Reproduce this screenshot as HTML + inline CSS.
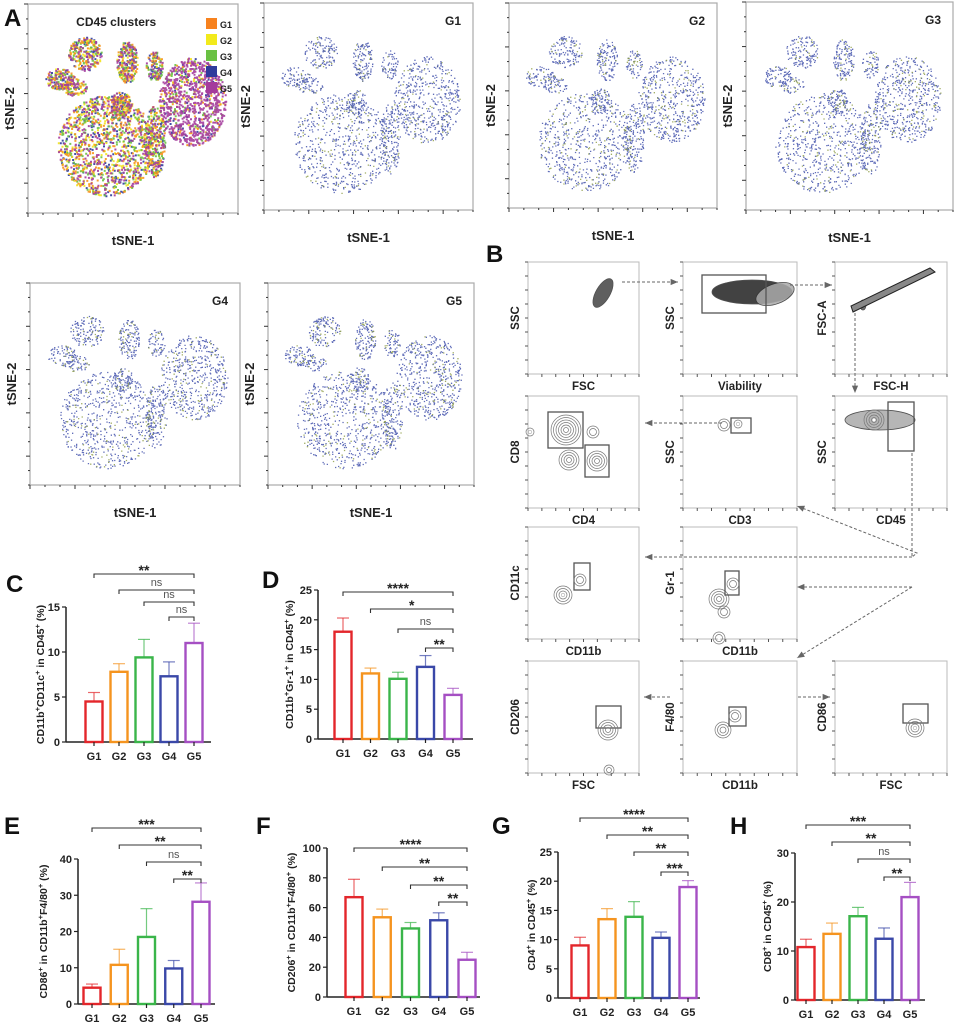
<!DOCTYPE html>
<html><head><meta charset="utf-8"><style>
html,body{margin:0;padding:0;background:#fff}
svg{display:block;font-family:"Liberation Sans",Arial,sans-serif}
</style></head><body>
<svg id="fig" width="957" height="1024" viewBox="0 0 957 1024" xmlns="http://www.w3.org/2000/svg">
<g id="tsne"></g>
<g id="flow"></g>
<g id="bars"></g>
<g font-weight="bold" font-size="24" fill="#111">
<text x="4" y="26">A</text>
<text x="486" y="262">B</text>
<text x="6" y="592">C</text>
<text x="262" y="588">D</text>
<text x="4" y="834">E</text>
<text x="256" y="834">F</text>
<text x="492" y="834">G</text>
<text x="730" y="834">H</text>
</g>
</svg>
<script>
// ---------- bar chart data ----------
const groups = ["G1","G2","G3","G4","G5"];
const colors = ["#e3262b","#f5941f","#3ab54a","#3a48a8","#a54fc3"];
const cVals = [4.5,7.8,9.4,7.3,11.0];
const cErr  = [1.0,0.9,2.0,1.6,2.2];
const cTicks = [0,5,10,15];
const cSig = ["**","ns","ns","ns"];
const dVals = [18,11,10.1,12.1,7.4];
const dErr  = [2.3,0.9,1.1,1.9,1.1];
const dTicks = [0,5,10,15,20,25];
const dSig = ["****","*","ns","**"];
const eVals = [4.5,10.8,18.5,9.8,28.2];
const eErr  = [1.0,4.3,7.8,2.2,5.2];
const eTicks = [0,10,20,30,40];
const eSig = ["***","**","ns","**"];
const fVals = [67,53.5,46,51.5,25];
const fErr  = [12,5.5,4,5,5];
const fTicks = [0,20,40,60,80,100];
const fSig = ["****","**","**","**"];
const gVals = [9,13.5,13.9,10.3,19];
const gErr  = [1.4,1.8,2.6,1.0,1.1];
const gTicks = [0,5,10,15,20,25];
const gSig = ["****","**","**","***"];
const hVals = [10.8,13.5,17.1,12.5,21];
const hErr  = [1.6,2.2,1.8,2.2,3.0];
const hTicks = [0,10,20,30];
const hSig = ["***","**","ns","**"];

const NS="http://www.w3.org/2000/svg";
function mk(tag,attrs,parent,text){const e=document.createElementNS(NS,tag);for(const k in attrs)e.setAttribute(k,attrs[k]);if(text!==undefined)e.textContent=text;parent.appendChild(e);return e;}

function barChart(p){
  const root=document.getElementById('bars');
  const g=mk('g',{},root);
  
  
  const ymax=p.ticks[p.ticks.length-1];
  const y=v=>p.y0-(v/ymax)*(p.y0-p.yTop);
  const x=i=>p.x1+i*(p.x5-p.x1)/4;
  const bw=17;
  const ya=mk('line',{x1:p.ax,y1:y(ymax),x2:p.ax,y2:p.y0,stroke:'#222','stroke-width':1.5},g);
  
  const xa=mk('line',{x1:p.ax,y1:p.y0,x2:p.xEnd,y2:p.y0,stroke:'#222','stroke-width':1.5},g);
  
  p.ticks.forEach(t=>{
    mk('line',{x1:p.ax-4,y1:y(t),x2:p.ax,y2:y(t),stroke:'#222','stroke-width':1.2},g);
    const tl=mk('text',{x:p.ax-6,y:y(t)+4,'font-size':11,'font-weight':'bold','text-anchor':'end',fill:'#222'},g,String(t));
    
  });
  groups.forEach((gn,i)=>{
    const v=p.vals[i],e=p.err[i],cx=x(i);
    mk('line',{x1:cx,y1:y(v),x2:cx,y2:y(v+e),stroke:colors[i],'stroke-width':1.2,opacity:0.7},g);
    mk('line',{x1:cx-6,y1:y(v+e),x2:cx+6,y2:y(v+e),stroke:colors[i],'stroke-width':1.2,opacity:0.7},g);
    const r=mk('rect',{x:cx-bw/2,y:y(v),width:bw,height:p.y0-y(v),fill:'#fff',stroke:colors[i],'stroke-width':2.4},g);
    
    mk('line',{x1:cx,y1:p.y0,x2:cx,y2:p.y0+4,stroke:'#222','stroke-width':1.2},g);
    const xl=mk('text',{x:cx,y:p.y0+18,'font-size':11,'font-weight':'bold','text-anchor':'middle',fill:'#222'},g,gn);
    
  });
  p.sig.forEach((s,k)=>{
    const by=p.brY[k];
    const b=mk('path',{d:`M${x(k)} ${by+4}V${by}H${x(4)}V${by+4}`,fill:'none',stroke:'#333','stroke-width':1.1},g);
    
    const isNs=s==='ns';
    const tl=mk('text',{x:(x(k)+x(4))/2,y:isNs?by-4:by+1,'font-size':isNs?11:14,'font-weight':isNs?'normal':'bold','text-anchor':'middle',fill:isNs?'#555':'#222'},g,s);
    
  });
  const t=mk('text',{transform:`translate(${p.tx},${(p.y0+y(ymax))/2}) rotate(-90)`,'font-size':10.5,'font-weight':'bold','text-anchor':'middle',fill:'#222'},g);
  
  p.title.forEach(seg=>{mk('tspan',seg[1]?{'baseline-shift':'super','font-size':7.5}:{},t,seg[0]);});
}
barChart({name:'chart-c',ax:66,y0:742,yTop:607,x1:94,x5:194,xEnd:211,vals:cVals,err:cErr,ticks:cTicks,sig:cSig,brY:[574,590,602,617],tx:44,
 title:[["CD11b"],["+",1],["CD11c"],["+",1],[" in CD45"],["+",1],["  (%)"]]});
barChart({name:'chart-d',ax:318,y0:739,yTop:590,x1:343,x5:453,xEnd:473,vals:dVals,err:dErr,ticks:dTicks,sig:dSig,brY:[592,609,629,648],tx:293,
 title:[["CD11b"],["+",1],["Gr-1"],["+",1],[" in CD45"],["+",1],["  (%)"]]});
barChart({name:'chart-e',ax:78,y0:1004,yTop:859,x1:92,x5:201,xEnd:215,vals:eVals,err:eErr,ticks:eTicks,sig:eSig,brY:[828,845,862,879],tx:47,
 title:[["CD86"],["+",1],[" in CD11b"],["+",1],["F4/80"],["+",1],["  (%)"]]});
barChart({name:'chart-f',ax:327,y0:997,yTop:848,x1:354,x5:467,xEnd:480,vals:fVals,err:fErr,ticks:fTicks,sig:fSig,brY:[848,867,885,902],tx:295,
 title:[["CD206"],["+",1],[" in CD11b"],["+",1],["F4/80"],["+",1],["  (%)"]]});
barChart({name:'chart-g',ax:558,y0:998,yTop:852,x1:580,x5:688,xEnd:700,vals:gVals,err:gErr,ticks:gTicks,sig:gSig,brY:[818,835,852,872],tx:535,
 title:[["CD4"],["+",1],[" in CD45"],["+",1],["  (%)"]]});
barChart({name:'chart-h',ax:795,y0:1000,yTop:853,x1:806,x5:910,xEnd:925,vals:hVals,err:hErr,ticks:hTicks,sig:hSig,brY:[825,842,859,877],tx:771,
 title:[["CD8"],["+",1],[" in CD45"],["+",1],["  (%)"]]});

// ---------- tSNE panels (texture) ----------
let seed=12345;function rnd(){seed=(seed*1103515245+12345)%2147483648;return seed/2147483648;}
const blobs=[[0.37,0.68,0.23,0.24,1.0],[0.78,0.47,0.16,0.21,0.8],[0.6,0.66,0.05,0.17,0.25],[0.27,0.24,0.08,0.08,0.2],[0.47,0.28,0.05,0.1,0.2],[0.15,0.36,0.07,0.05,0.12],[0.44,0.48,0.05,0.06,0.12],[0.6,0.3,0.04,0.07,0.1],[0.22,0.4,0.06,0.04,0.08]];
function tsne(px,py,w,h,label,dense){
  const root=document.getElementById('tsne');
  const g=mk('g',{},root);
  
  
  mk('rect',{x:px,y:py,width:w,height:h,fill:'#fff',stroke:'#aaa','stroke-width':1.2},g);
  for(let i=0;i<=14;i++){mk('line',{x1:px,y1:py+h*i/14,x2:px-(i%3==0?4:2),y2:py+h*i/14,stroke:'#333'},g);mk('line',{x1:px+w*i/14,y1:py+h,x2:px+w*i/14,y2:py+h+(i%3==0?4:2),stroke:'#333'},g);}
  const pal=['#f7931e','#f2e21c','#6ac143','#2f3b9c','#a43c9c'];
  const cols={};
  blobs.forEach(b=>{const n=Math.round((dense?1300:650)*b[4]);for(let i=0;i<n;i++){const a=rnd()*6.283,r=Math.pow(rnd(),0.45);const x=px+w*(b[0]+b[2]*r*Math.cos(a)),y=py+h*(b[1]+b[3]*r*Math.sin(a));
    let c=dense?pal[Math.floor(rnd()*5)]:(rnd()<0.85?'#3a4aa8':'#8a9a40');if(dense&&b[0]>0.7&&rnd()<0.6)c='#a43c9c';
    (cols[c]=cols[c]||[]).push(`M${x.toFixed(1)} ${y.toFixed(1)}h${dense?2:1.3}`);}});
  for(const c in cols)mk('path',{d:cols[c].join(''),stroke:c,'stroke-width':dense?2:1.3,fill:'none',opacity:dense?0.9:0.8},g);
  const lt=mk('text',{x:dense?px+w*0.42:px+w-12,y:py+22,'font-size':12,'font-weight':'bold','text-anchor':dense?'middle':'end',fill:'#222'},g,label);
  
  const xt=mk('text',{x:px+w/2,y:py+h+32,'font-size':13,'font-weight':'bold','text-anchor':'middle',fill:'#222'},g,'tSNE-1');
  
  const yt=mk('text',{transform:`translate(${px-14},${py+h/2}) rotate(-90)`,'font-size':13,'font-weight':'bold','text-anchor':'middle',fill:'#222'},g,'tSNE-2');
  
  if(dense){['G1','G2','G3','G4','G5'].forEach((s,i)=>{const lg=mk('g',{},g);
    mk('rect',{x:px+w-32,y:py+14+i*16,width:11,height:11,fill:['#f7821e','#f2ea1c','#6ac143','#2f3b9c','#a43c9c'][i]},lg);
    mk('text',{x:px+w-18,y:py+24+i*16,'font-size':9,'font-weight':'bold',fill:'#222'},lg,s);});}
}
tsne(28,4,210,209,'CD45 clusters',true);
tsne(264,3,209,207,'G1',false);
tsne(509,3,208,205,'G2',false);
tsne(746,2,207,208,'G3',false);
tsne(30,283,210,202,'G4',false);
tsne(268,283,206,202,'G5',false);

// ---------- flow gating panels ----------
const colsX=[528,683,835], rowsY=[262,396,527,661], fw=[111,114,112], fh=112;
const flowPanels=[["SSC","FSC",0,0],["SSC","Viability",1,0],["FSC-A","FSC-H",2,0],["CD8","CD4",0,1],["SSC","CD3",1,1],["SSC","CD45",2,1],["CD11c","CD11b",0,2],["Gr-1","CD11b",1,2],["CD206","FSC",0,3],["F4/80","CD11b",1,3],["CD86","FSC",2,3]];
const fr=document.getElementById('flow');
flowPanels.forEach(fp=>{
  const px=colsX[fp[2]],py=rowsY[fp[3]],w=fw[fp[2]];
  const g=mk('g',{},fr);
  
  
  mk('rect',{x:px,y:py,width:w,height:fh,fill:'#fff',stroke:'#bbb','stroke-width':1},g);
  for(let i=0;i<=8;i++){mk('line',{x1:px,y1:py+fh*i/8,x2:px-3,y2:py+fh*i/8,stroke:'#555'},g);mk('line',{x1:px+w*i/8,y1:py+fh,x2:px+w*i/8,y2:py+fh+3,stroke:'#555'},g);}
  const xt=mk('text',{x:px+w/2,y:py+fh+16,'font-size':11.5,'font-weight':'bold','text-anchor':'middle',fill:'#222'},g,fp[1]);
  
  const yt=mk('text',{transform:`translate(${px-9},${py+fh/2}) rotate(-90)`,'font-size':11.5,'font-weight':'bold','text-anchor':'middle',fill:'#222'},g,fp[0]);
  
});
function blob(cx,cy,rx,ry,rot,fill){mk('ellipse',{cx,cy,rx,ry,transform:`rotate(${rot} ${cx} ${cy})`,fill:fill||'#777',stroke:'#333','stroke-width':0.8,opacity:0.85},fr);}
function gate(x,y,w,h){const r=mk('rect',{x,y,width:w,height:h,fill:'none',stroke:'#555','stroke-width':1.3},fr);}
function ring(cx,cy,r){for(let k=r;k>1;k-=2.5)mk('circle',{cx,cy,r:k,fill:'none',stroke:'#777','stroke-width':0.7},fr);mk('circle',{cx,cy,r:1.5,fill:'#fff'},fr);}
blob(603,293,7,16,30,'#444');
blob(752,292,40,12,0,'#222');blob(775,294,20,10,-20,'#aaa');gate(702,275,64,38);
blob(863,305,3,5,0,'#555');mk('path',{d:'M853 312 L935 272 L930 268 L851 306Z',fill:'#888',stroke:'#222'},fr);
gate(548,412,35,36);ring(566,430,15);ring(593,432,6);ring(569,460,10);gate(585,445,24,32);ring(597,461,10);ring(530,432,4);
ring(724,425,6);gate(731,418,20,15);ring(738,424,4);
blob(880,420,35,10,0,'#aaa');ring(874,420,10);gate(888,402,26,49);
ring(563,595,9);gate(574,563,16,27);ring(580,580,6);
ring(719,599,10);ring(724,612,6);gate(725,571,14,24);ring(733,584,6);ring(719,638,6);
gate(596,706,25,22);ring(608,730,10);ring(609,770,5);
ring(723,730,8);gate(729,707,17,19);ring(735,716,6);
gate(903,704,25,19);ring(915,728,9);
const arrows=[[622,282,678,282],[790,285,832,285],[855,313,855,393],[722,423,645,423],[912,453,912,557,917,553,797,506],[912,557,645,557],[912,587,797,587],[912,587,797,658],[670,697,644,697],[798,697,830,697]];
arrows.forEach(a=>{
  const n=a.length;const pts=[];for(let i=0;i<n;i+=2)pts.push(a[i]+' '+a[i+1]);
  const l=mk('path',{d:'M'+pts.join('L'),fill:'none',stroke:'#666','stroke-width':1,'stroke-dasharray':'3 2'},fr);
  
  const x2=a[n-2],y2=a[n-1],x1=a[n-4],y1=a[n-3];const ang=Math.atan2(y2-y1,x2-x1);
  const p1=[x2-8*Math.cos(ang-0.4),y2-8*Math.sin(ang-0.4)],p2=[x2-8*Math.cos(ang+0.4),y2-8*Math.sin(ang+0.4)];
  mk('path',{d:`M${x2} ${y2}L${p1[0]} ${p1[1]}L${p2[0]} ${p2[1]}Z`,fill:'#666'},fr);
});
</script>
</body></html>
